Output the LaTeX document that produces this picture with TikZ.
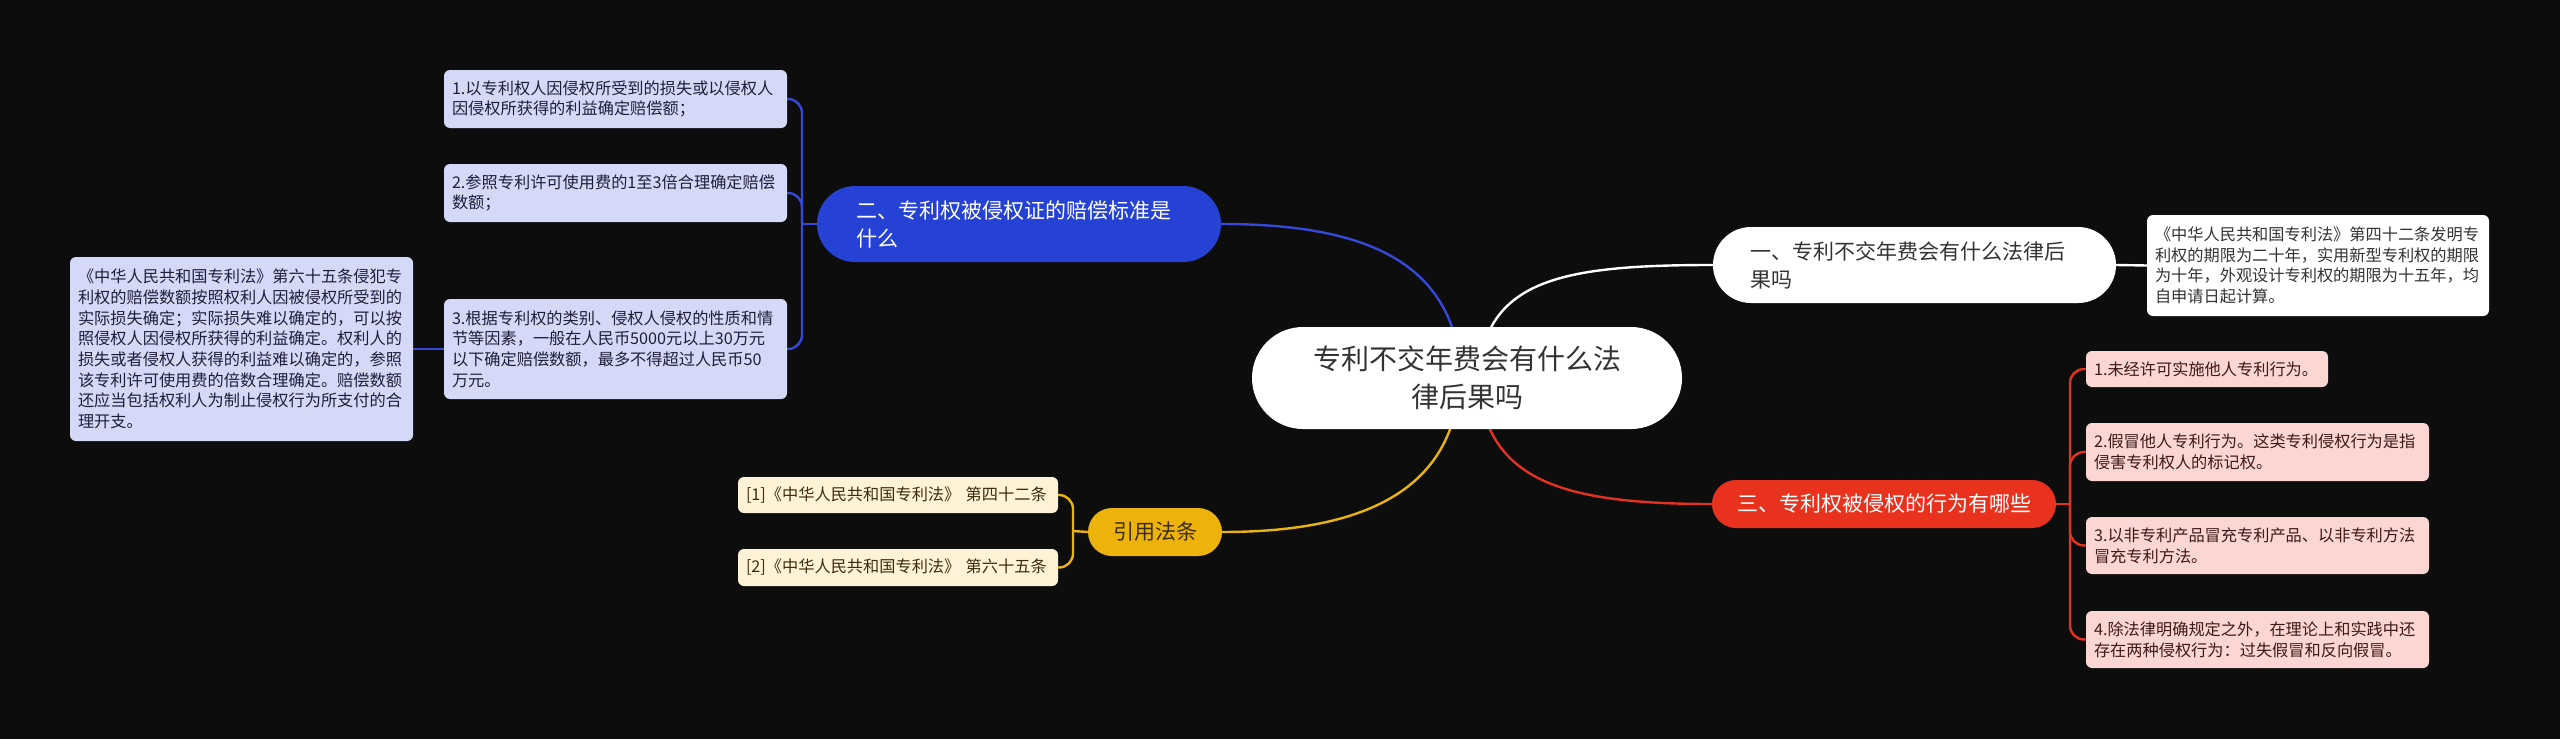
\documentclass[tikz,border=0pt]{standalone}
\usepackage{fontspec}
\setmainfont{Noto Sans CJK SC}
\newcommand\mmLeaf{\fontsize{16.2}{20.7}\selectfont}
\newcommand\mmBranch{\fontsize{21}{28}\selectfont}
\newcommand\mmCenter{\fontsize{28}{38}\selectfont}
\definecolor{bgc}{HTML}{0D0D0D}
\definecolor{blueB}{HTML}{2642D4}
\definecolor{blueL}{HTML}{D5D9F8}
\definecolor{blueLine}{HTML}{3549D6}
\definecolor{blueTxt}{HTML}{1E1E3C}
\definecolor{redB}{HTML}{E9321E}
\definecolor{redL}{HTML}{FCD6D3}
\definecolor{redLine}{HTML}{E3321F}
\definecolor{redTxt}{HTML}{3B1A17}
\definecolor{yelB}{HTML}{EEB30B}
\definecolor{yelL}{HTML}{FEF3D7}
\definecolor{yelLine}{HTML}{E9B40F}
\definecolor{yelTxt}{HTML}{3A2D08}
\definecolor{darkTxt}{HTML}{333333}
\pgfdeclarelayer{back}
\pgfdeclarelayer{links}
\pgfsetlayers{back,links,main}
\tikzset{
  leafbox/.style={rectangle, rounded corners=6pt, inner xsep=8pt, inner ysep=0pt, align=left, font=\mmLeaf, anchor=center},
  bleaf/.style={leafbox, fill=blueL, text=blueTxt},
  rleaf/.style={leafbox, fill=redL, text=redTxt},
  yleaf/.style={leafbox, fill=yelL, text=yelTxt},
  wleaf/.style={leafbox, fill=white, text=darkTxt},
  branchbox/.style={rectangle, inner ysep=0pt, font=\mmBranch, anchor=center},
  link/.style={line width=2.4pt},
  bline/.style={link, draw=blueLine},
  rline/.style={link, draw=redLine},
  yline/.style={link, draw=yelLine},
  wline/.style={link, draw=white},
}
\begin{document}
\begin{tikzpicture}[x=1pt,y=-1pt]
\useasboundingbox (0,0) rectangle (2560,739);
\begin{pgfonlayer}{back}
\fill[bgc] (0,0) rectangle (2560,739);
\end{pgfonlayer}

% center
\node[rectangle, rounded corners=51pt, fill=white, text=darkTxt, font=\mmCenter, align=center,
      text width=430pt, inner xsep=0pt, inner ysep=0pt, minimum height=102pt] (C) at (1467,378)
  {专利不交年费会有什么法\\律后果吗};

% branch one (white)
\node[branchbox, rounded corners=38pt, fill=white, text=darkTxt, align=left, inner xsep=37pt,
      text width=329pt, minimum height=76pt] (W) at (1914.5,265)
  {一、专利不交年费会有什么法律后\\果吗};
\node[wleaf, text width=326pt, minimum height=101pt] (R1) at (2318,265.5)
  {《中华人民共和国专利法》第四十二条发明专\\利权的期限为二十年，实用新型专利权的期限\\为十年，外观设计专利权的期限为十五年，均\\自申请日起计算。};

% branch two (blue)
\node[branchbox, rounded corners=38pt, fill=blueB, text=white, align=left, inner xsep=39pt,
      text width=326pt, minimum height=76pt] (B) at (1019,224)
  {二、专利权被侵权证的赔偿标准是\\什么};
\node[bleaf, text width=327pt, minimum height=58pt] (b1) at (615.5,99)
  {1.以专利权人因侵权所受到的损失或以侵权人\\因侵权所获得的利益确定赔偿额；};
\node[bleaf, text width=327pt, minimum height=58pt] (b2) at (615.5,193)
  {2.参照专利许可使用费的1至3倍合理确定赔偿\\数额；};
\node[bleaf, text width=327pt, minimum height=100pt] (b3) at (615.5,349)
  {3.根据专利权的类别、侵权人侵权的性质和情\\节等因素，一般在人民币5000元以上30万元\\以下确定赔偿数额，最多不得超过人民币50\\万元。};
\node[bleaf, text width=327pt, minimum height=184pt] (bl) at (241.5,349)
  {《中华人民共和国专利法》第六十五条侵犯专\\利权的赔偿数额按照权利人因被侵权所受到的\\实际损失确定；实际损失难以确定的，可以按\\照侵权人因侵权所获得的利益确定。权利人的\\损失或者侵权人获得的利益难以确定的，参照\\该专利许可使用费的倍数合理确定。赔偿数额\\还应当包括权利人为制止侵权行为所支付的合\\理开支。};

% branch three (red)
\node[branchbox, rounded corners=24pt, fill=redB, text=white, align=center, inner xsep=0pt,
      text width=344pt, minimum height=48pt] (R) at (1884,504)
  {三、专利权被侵权的行为有哪些};
\node[rleaf, text width=226pt, minimum height=36pt] (r1) at (2207,369)
  {1.未经许可实施他人专利行为。};
\node[rleaf, text width=327pt, minimum height=58pt] (r2) at (2257.5,452)
  {2.假冒他人专利行为。这类专利侵权行为是指\\侵害专利权人的标记权。};
\node[rleaf, text width=327pt, minimum height=57pt] (r3) at (2257.5,545.5)
  {3.以非专利产品冒充专利产品、以非专利方法\\冒充专利方法。};
\node[rleaf, text width=327pt, minimum height=57pt] (r4) at (2257.5,639.5)
  {4.除法律明确规定之外，在理论上和实践中还\\存在两种侵权行为：过失假冒和反向假冒。};

% branch four (yellow)
\node[branchbox, rounded corners=24pt, fill=yelB, text=yelTxt, align=center, inner xsep=0pt,
      text width=134pt, minimum height=48pt] (Y) at (1155,532)
  {引用法条};
\node[yleaf, text width=304pt, minimum height=36pt] (y1) at (898,495)
  {[1]《中华人民共和国专利法》 第四十二条};
\node[yleaf, text width=304pt, minimum height=37pt] (y2) at (898,567.5)
  {[2]《中华人民共和国专利法》 第六十五条};

\coordinate (bj) at (802,224);
\coordinate (rj) at (2070,504);
\coordinate (yj) at (1073,531);

\begin{pgfonlayer}{links}
% center to branches
\draw[wline] ([xshift=11pt]C.center) .. controls +(7,-98) and +(-153,0) .. (W.west);
\draw[bline] ([xshift=-5pt]C.center) .. controls +(-7,-108) and +(159,0) .. (B.east);
\draw[yline] ([xshift=-7pt]C.center) .. controls +(-5,102) and +(158,0) .. (Y.east);
\draw[rline] ([xshift=11pt]C.center) .. controls +(7,102) and +(-152,0) .. (R.west);
% white
\draw[wline] (W.east) -- (R1.west);
% blue
\draw[bline] (B.west) -- (bj);
\draw[bline, rounded corners=14pt] (bj) |- (b1.east);
\draw[bline, rounded corners=14pt] (bj) |- (b2.east);
\draw[bline, rounded corners=14pt] (bj) |- (b3.east);
\draw[bline] (bl.east) -- (b3.west);
% red
\draw[rline] (R.east) -- (rj);
\draw[rline, rounded corners=14pt] (rj) |- (r1.west);
\draw[rline, rounded corners=14pt] (rj) |- (r2.west);
\draw[rline, rounded corners=14pt] (rj) |- (r3.west);
\draw[rline, rounded corners=14pt] (rj) |- (r4.west);
% yellow
\draw[yline] (Y.west) -- (yj);
\draw[yline, rounded corners=14pt] (yj) |- (y1.east);
\draw[yline, rounded corners=14pt] (yj) |- (y2.east);
\end{pgfonlayer}
\end{tikzpicture}
\end{document}
